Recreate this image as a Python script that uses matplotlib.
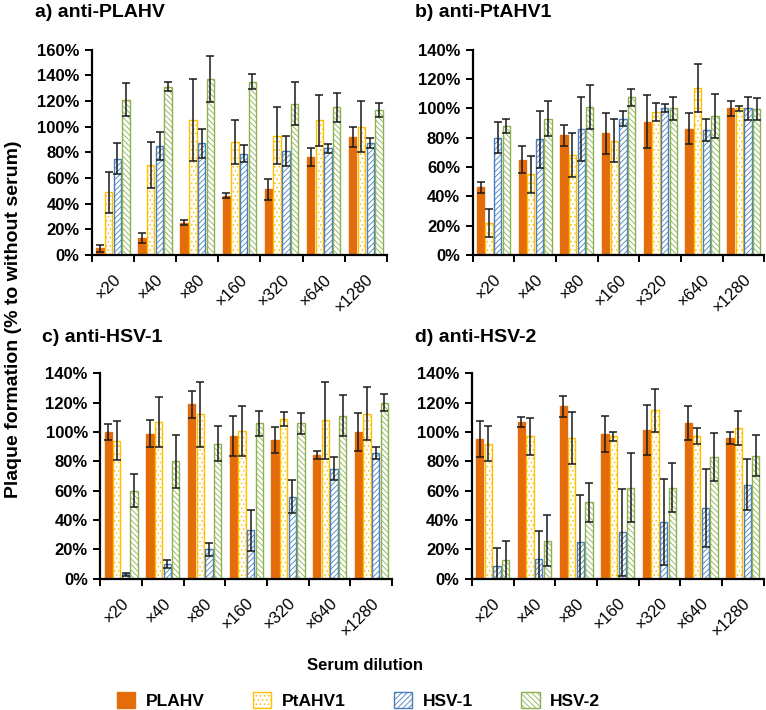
import matplotlib
matplotlib.use("Agg")
import matplotlib.pyplot as plt
import matplotlib.transforms as mtransforms
from matplotlib.patches import Patch
import numpy as np

plt.rcParams['font.family'] = ['Liberation Sans', 'DejaVu Sans']
plt.rcParams['hatch.linewidth'] = 0.6

dilutions = ['×20', '×40', '×80', '×160', '×320', '×640', '×1280']
series = ['PLAHV', 'PtAHV1', 'HSV-1', 'HSV-2']

# rows: PLAHV, PtAHV1, HSV-1, HSV-2 (percent)
a_means = [[5, 13, 25, 46, 51, 76, 92],
           [49, 70, 105, 88, 93, 105, 100],
           [75, 85, 87, 79, 81, 83, 87],
           [121, 131, 137, 135, 118, 115, 113]]
a_errs = [[3, 4, 2, 2, 8, 7, 7.5],
          [16, 18, 32, 17, 22.5, 20, 20],
          [12, 11, 11.5, 6.5, 12, 3.5, 4],
          [13, 3.5, 18, 6, 17, 11.5, 5.5]]

b_means = [[46, 65, 81.5, 83, 91, 86, 100],
           [22, 55, 68, 78, 97.5, 114, 100],
           [80, 79, 86, 93, 100, 85, 100],
           [88, 93, 101, 107.5, 100, 95, 99.5]]
b_errs = [[3.5, 9, 7, 14, 18, 10.5, 5],
          [9.5, 12.5, 15, 14.5, 6, 16.5, 1.6],
          [10.5, 19.5, 22, 5, 2.7, 7.5, 8],
          [4.5, 12, 15, 5.7, 8, 15, 7.7]]

c_means = [[100, 99, 119, 97.5, 94.5, 84.5, 100],
           [94, 107, 112, 100.5, 109, 108, 112.5],
           [3, 10, 20, 33, 56, 75, 85.5],
           [60, 80, 92, 106, 106, 111, 120]]
c_errs = [[5.7, 9.5, 9.3, 13.8, 9, 2.6, 13],
          [13.3, 17, 22.5, 17, 5, 26.5, 18],
          [1, 2.4, 4.5, 14, 11, 8, 4],
          [11.3, 18, 12, 8.7, 7, 14, 5.7]]

d_means = [[95.5, 107, 117.5, 98.5, 101.5, 106.5, 96],
           [92, 97, 96, 97, 115, 97.5, 103],
           [8.7, 13.7, 25, 31.5, 38.7, 48.3, 64],
           [12.5, 26, 52, 62, 62, 82.7, 84]]
d_errs = [[12.4, 3.4, 7, 12.3, 17, 11.6, 4],
          [12, 12.4, 17.5, 3, 14.7, 5.6, 11.7],
          [12, 19, 32, 30, 29.5, 26.5, 17.5],
          [13.5, 17.5, 13.6, 23.6, 16.6, 16.4, 14]]

face_cols = ['#E46C0A', 'white', 'white', 'white']
edge_cols = ['#E46C0A', '#FFC000', '#4A7EBB', '#8DB150']
hatches = [None, '....', '//////', '\\\\\\\\\\\\']


def draw_panel(ax, means, errs, ymax, title, tx, ty, fig):
    x = np.arange(len(dilutions))
    width = 0.175
    offs = [-0.31, -0.105, 0.105, 0.31]
    for i in range(4):
        ax.bar(x + offs[i], means[i], width, color=face_cols[i],
               edgecolor=edge_cols[i], hatch=hatches[i], linewidth=1.0)
        ax.errorbar(x + offs[i], means[i], yerr=errs[i], fmt='none',
                    ecolor='#1a1a1a', elinewidth=1.1, capsize=3, capthick=1.1)
    ax.set_xlim(-0.5, len(dilutions) - 0.5)
    ax.set_ylim(0, ymax)
    ax.set_yticks(np.arange(0, ymax + 1, 20))
    ax.set_yticklabels(['{}%'.format(v) for v in range(0, ymax + 1, 20)],
                       fontsize=12, fontweight='bold')
    ax.set_xticks(x)
    ax.set_xticklabels(dilutions, rotation=45, ha='right',
                       rotation_mode='anchor', fontsize=12)
    off = mtransforms.ScaledTranslation(4 / 72, 0, fig.dpi_scale_trans)
    for lab in ax.get_xticklabels():
        lab.set_transform(lab.get_transform() + off)
    ax.set_xticks(np.arange(-0.5, len(dilutions)), minor=True)
    ax.tick_params(axis='x', which='major', length=0, pad=12)
    ax.tick_params(axis='x', which='minor', length=5, width=1.4, direction='out')
    ax.tick_params(axis='y', length=5, width=1.4, direction='out', pad=4)
    for s in ['top', 'right']:
        ax.spines[s].set_visible(False)
    for s in ['left', 'bottom']:
        ax.spines[s].set_linewidth(1.6)
    fig.text(tx, ty, title, fontsize=14, fontweight='bold', va='baseline')


fig = plt.figure(figsize=(7.66, 7.10), dpi=100)
ax_a = fig.add_axes([0.120, 0.641, 0.385, 0.289])
ax_b = fig.add_axes([0.617, 0.641, 0.381, 0.289])
ax_c = fig.add_axes([0.131, 0.185, 0.381, 0.289])
ax_d = fig.add_axes([0.616, 0.185, 0.381, 0.289])

draw_panel(ax_a, a_means, a_errs, 160, 'a) anti-PLAHV', 0.046, 0.976, fig)
draw_panel(ax_b, b_means, b_errs, 140, 'b) anti-PtAHV1', 0.542, 0.976, fig)
draw_panel(ax_c, c_means, c_errs, 140, 'c) anti-HSV-1', 0.055, 0.518, fig)
draw_panel(ax_d, d_means, d_errs, 140, 'd) anti-HSV-2', 0.542, 0.518, fig)

fig.text(0.017, 0.550, 'Plaque formation (% to without serum)', rotation=90,
         fontsize=14, fontweight='bold', ha='center', va='center')
fig.text(0.476, 0.063, 'Serum dilution', fontsize=12, fontweight='bold',
         ha='center', va='center')

handles = [Patch(facecolor=face_cols[i], edgecolor=edge_cols[i],
                 hatch=hatches[i], linewidth=1.0) for i in range(4)]
fig.legend(handles, series, loc='center', bbox_to_anchor=(0.468, 0.014),
           ncol=4, frameon=False, handlelength=1.05, handleheight=1.05,
           handletextpad=0.6, columnspacing=2.8,
           prop={'size': 12.5, 'weight': 'bold'})

fig.savefig('out.png', dpi=100)
